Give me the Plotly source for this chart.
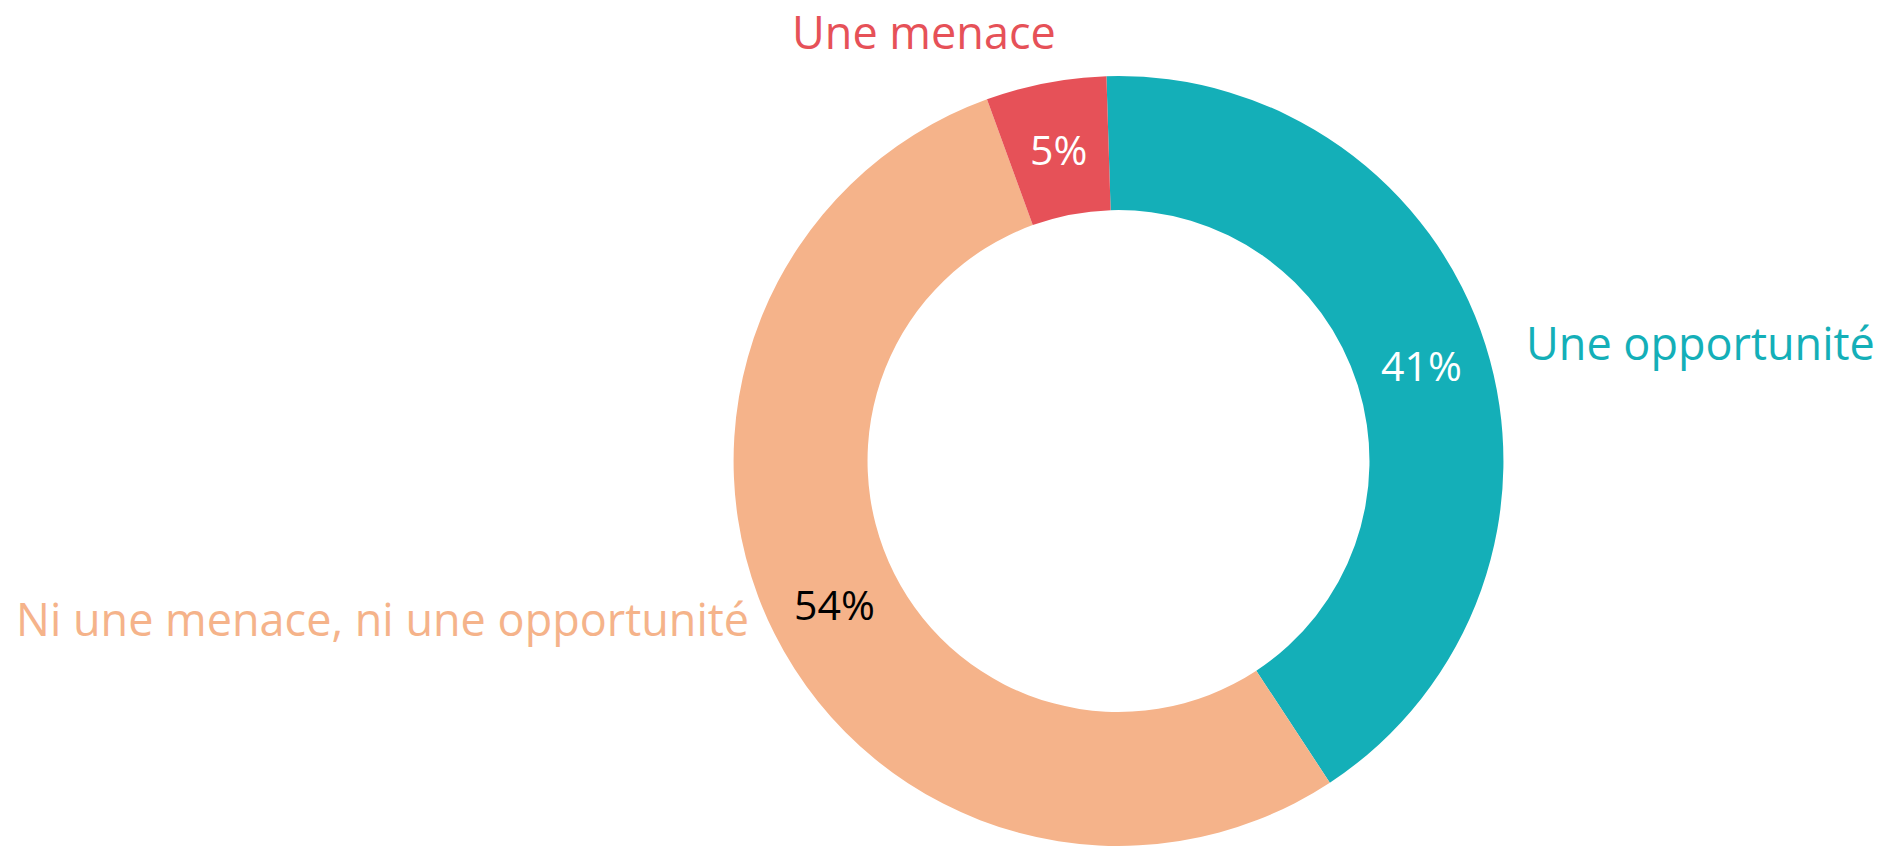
import math
import plotly.graph_objects as go

# ---- data ----
labels = ["Une opportunité", "Ni une menace, ni une opportunité", "Une menace"]
values = [41.25, 53.7, 5.05]
colors = ["#14AFB8", "#F5B38A", "#E65158"]
pct_text_colors = ["#FFFFFF", "#000000", "#FFFFFF"]

# ---- style ----
W, H = 1880, 846
rotation = -1.8
hole = 0.652
dom_x = [0.3902, 0.7997]
dom_y = [0.0, 0.9102]
label_font = "Open Sans, Noto Sans, sans-serif"
label_size = 45
pct_size = 41
# pixel nudges for outside labels (x, y-up)
label_shift = [(38, 2), (-23, 15), (12, 51)]

fig = go.Figure()
fig.add_trace(go.Pie(
    labels=labels,
    values=values,
    sort=False,
    direction="clockwise",
    rotation=rotation,
    hole=hole,
    domain=dict(x=dom_x, y=dom_y),
    marker=dict(colors=colors, line=dict(width=0)),
    textinfo="none",
    hoverinfo="label+percent",
    showlegend=False,
))

# geometry of the pie (same as plotly's own layout of the domain)
cx = (dom_x[0] + dom_x[1]) / 2 * W
cy = (1 - (dom_y[0] + dom_y[1]) / 2) * H
r = min((dom_x[1] - dom_x[0]) * W, (dom_y[1] - dom_y[0]) * H) / 2
r_mid = r * (1 + hole) / 2
total = sum(values)
start = rotation
annotations = []
for lab, v, col, tcol, (dx, dy) in zip(labels, values, colors, pct_text_colors, label_shift):
    span = v / total * 360
    mid = math.radians(start + span / 2)
    start += span
    # outside category label
    px = cx + r * math.sin(mid)
    py = cy - r * math.cos(mid)
    annotations.append(dict(
        x=px / W, y=1 - py / H, xref="paper", yref="paper",
        text=lab, showarrow=False,
        xanchor="left" if math.sin(mid) >= 0 else "right",
        yanchor="middle",
        xshift=dx, yshift=dy,
        font=dict(family=label_font, size=label_size, color=col),
    ))
    # percentage inside the ring
    mx = cx + r_mid * math.sin(mid)
    my = cy - r_mid * math.cos(mid)
    annotations.append(dict(
        x=mx / W, y=1 - my / H, xref="paper", yref="paper",
        text=f"{round(v / total * 100)}%", showarrow=False,
        xanchor="center", yanchor="middle",
        font=dict(family=label_font, size=pct_size, color=tcol),
    ))

fig.update_layout(
    width=W, height=H,
    margin=dict(l=0, r=0, t=0, b=0),
    paper_bgcolor="white",
    plot_bgcolor="white",
    annotations=annotations,
)

fig.write_html(
    "out.html",
    config={"displayModeBar": False},
    post_script="document.body.style.margin='0';document.body.style.overflow='hidden';",
)
